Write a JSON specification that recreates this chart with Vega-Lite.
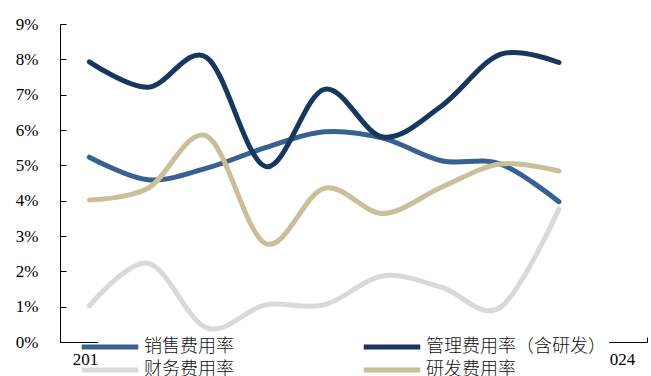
{
  "$schema": "https://vega.github.io/schema/vega-lite/v6.json",
  "width": 587,
  "height": 318,
  "autosize": {"type": "none"},
  "padding": {"left": 60, "top": 24, "right": 4, "bottom": 34},
  "background": "white",
  "config": {"view": {"stroke": null}},
  "data": {"values": [
    {"year": "2015", "series": "销售费用率", "v": 5.23},
    {"year": "2016", "series": "销售费用率", "v": 4.59},
    {"year": "2017", "series": "销售费用率", "v": 4.92},
    {"year": "2018", "series": "销售费用率", "v": 5.50},
    {"year": "2019", "series": "销售费用率", "v": 5.95},
    {"year": "2020", "series": "销售费用率", "v": 5.77},
    {"year": "2021", "series": "销售费用率", "v": 5.13},
    {"year": "2022", "series": "销售费用率", "v": 5.04},
    {"year": "2023", "series": "销售费用率", "v": 3.97},
    {"year": "2015", "series": "管理费用率（含研发）", "v": 7.93},
    {"year": "2016", "series": "管理费用率（含研发）", "v": 7.21},
    {"year": "2017", "series": "管理费用率（含研发）", "v": 8.05},
    {"year": "2018", "series": "管理费用率（含研发）", "v": 4.97},
    {"year": "2019", "series": "管理费用率（含研发）", "v": 7.15},
    {"year": "2020", "series": "管理费用率（含研发）", "v": 5.80},
    {"year": "2021", "series": "管理费用率（含研发）", "v": 6.68},
    {"year": "2022", "series": "管理费用率（含研发）", "v": 8.14},
    {"year": "2023", "series": "管理费用率（含研发）", "v": 7.91},
    {"year": "2015", "series": "财务费用率", "v": 1.02},
    {"year": "2016", "series": "财务费用率", "v": 2.23},
    {"year": "2017", "series": "财务费用率", "v": 0.40},
    {"year": "2018", "series": "财务费用率", "v": 1.05},
    {"year": "2019", "series": "财务费用率", "v": 1.05},
    {"year": "2020", "series": "财务费用率", "v": 1.87},
    {"year": "2021", "series": "财务费用率", "v": 1.55},
    {"year": "2022", "series": "财务费用率", "v": 0.98},
    {"year": "2023", "series": "财务费用率", "v": 3.76},
    {"year": "2015", "series": "研发费用率", "v": 4.02},
    {"year": "2016", "series": "研发费用率", "v": 4.35},
    {"year": "2017", "series": "研发费用率", "v": 5.83},
    {"year": "2018", "series": "研发费用率", "v": 2.79},
    {"year": "2019", "series": "研发费用率", "v": 4.35},
    {"year": "2020", "series": "研发费用率", "v": 3.64},
    {"year": "2021", "series": "研发费用率", "v": 4.38},
    {"year": "2022", "series": "研发费用率", "v": 5.04},
    {"year": "2023", "series": "研发费用率", "v": 4.84}
  ]},
  "mark": {"type": "line", "interpolate": "cardinal", "strokeWidth": 5, "strokeCap": "round", "strokeJoin": "round"},
  "encoding": {
    "x": {
      "field": "year", "type": "ordinal",
      "scale": {"type": "band", "domain": ["2015","2016","2017","2018","2019","2020","2021","2022","2023","2024"], "paddingInner": 0, "paddingOuter": 0},
      "axis": {"title": null, "domainColor": "#000", "domainWidth": 1, "tickColor": "#000", "tickSize": -5, "tickBand": "extent", "labelAngle": 0, "labelFont": "Liberation Serif", "labelFontSize": 17, "labelColor": "#000", "labelPadding": 14, "grid": false}
    },
    "y": {
      "field": "v", "type": "quantitative",
      "scale": {"domain": [0, 9], "nice": false},
      "axis": {"title": null, "values": [0,1,2,3,4,5,6,7,8,9], "labelExpr": "datum.value + '%'", "domainColor": "#000", "domainWidth": 1, "tickColor": "#000", "tickSize": -6, "labelFont": "Liberation Serif", "labelFontSize": 17, "labelColor": "#000", "labelPadding": 28, "grid": false}
    },
    "color": {
      "field": "series", "type": "nominal",
      "scale": {"domain": ["销售费用率", "管理费用率（含研发）", "财务费用率", "研发费用率"], "range": ["#386192", "#17375E", "#D9D9D9", "#C9C09A"]},
      "legend": {
        "title": null, "orient": "none", "legendX": 38, "legendY": 311,
        "direction": "horizontal", "columns": 2, "columnPadding": 119, "rowPadding": 3,
        "padding": 3, "fillColor": "white", "strokeColor": null,
        "symbolType": "M-5,0H5", "symbolSize": 128, "symbolStrokeWidth": 5,
        "labelFont": "Noto Sans CJK SC", "labelFontSize": 18, "labelFontWeight": 300, "labelColor": "#111", "labelOffset": 25, "labelLimit": 300
      }
    }
  }
}
